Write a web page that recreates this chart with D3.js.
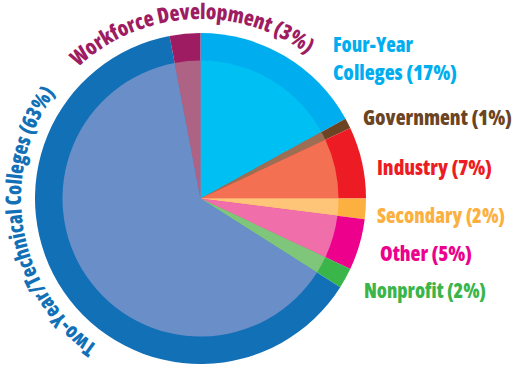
<!DOCTYPE html>
<html>
<head>
<meta charset="utf-8">
<script src="https://cdn.jsdelivr.net/npm/d3@7"></script>
<style>
  html, body { margin: 0; padding: 0; background: #ffffff; }
  svg text { font-family: "Open Sans", "Roboto", sans-serif; font-weight: 800; font-stretch: 75%; }
</style>
</head>
<body>
<svg id="chart" width="516" height="384"></svg>
<script>
// ---- data ----
const categories = ["Four-Year Colleges", "Government", "Industry", "Secondary", "Other", "Nonprofit", "Two-Year/Technical Colleges", "Workforce Development"];
const shares = [17, 1, 7, 2, 5, 2, 63, 3];
const ringColors = ["#00aeef", "#6b4423", "#ed1c24", "#fbb040", "#ec008c", "#39b54a", "#1270b7", "#9e1c61"];
const fillColors = ["#00bff3", "#9c6f55", "#f37053", "#fec578", "#f06faa", "#80c67a", "#6a8ec8", "#af6384"];
const labelLines = [["Four-Year", "Colleges (17%)"], ["Government (1%)"], ["Industry (7%)"], ["Secondary (2%)"], ["Other (5%)"], ["Nonprofit (2%)"], ["Two-Year/Technical Colleges (63%)"], ["Workforce Development (3%)"]];

// ---- layout ----
const cx = 200.5, cy = 198.5, rOuter = 165.5, rInner = 138;
const fontSize = 21.5;
const svg = d3.select("#chart");
const g = svg.append("g").attr("transform", `translate(${cx},${cy})`);

const data = categories.map((c, i) => ({ name: c, value: shares[i], i }));
const pie = d3.pie().value(d => d.value).sort(null).startAngle(0).endAngle(2 * Math.PI);
const arcs = pie(data);

const ring = d3.arc().innerRadius(0).outerRadius(rOuter);
const inner = d3.arc().innerRadius(0).outerRadius(rInner);

g.selectAll("path.ring").data(arcs).join("path")
  .attr("class", "ring")
  .attr("d", ring)
  .attr("fill", d => ringColors[d.data.i]);

g.selectAll("path.fill").data(arcs).join("path")
  .attr("class", "fill")
  .attr("d", inner)
  .attr("fill", d => fillColors[d.data.i]);

function fit(sel, target) {
  const nat = sel.node().getComputedTextLength();
  sel.attr("textLength", target).attr("lengthAdjust", nat < target ? "spacing" : "spacingAndGlyphs");
}

// ---- straight labels (right side) ----
const straight = [
  { i: 0, x: 333, y: [52, 80], w: [80, 124] },
  { i: 1, x: 363, y: [125], w: [149] },
  { i: 2, x: 377, y: [175], w: [115] },
  { i: 3, x: 377, y: [223], w: [128] },
  { i: 4, x: 380, y: [261], w: [92] },
  { i: 5, x: 364, y: [298], w: [122] }
];
straight.forEach(s => {
  labelLines[s.i].forEach((line, k) => {
    const t = svg.append("text")
      .attr("x", s.x).attr("y", s.y[k])
      .attr("font-size", fontSize)
      .attr("fill", ringColors[s.i])
      .text(line);
    fit(t, s.w[k]);
  });
});

// ---- curved labels ----
const rText = 179.5;
function arcPath(a0, a1, r) {
  const p0 = [r * Math.sin(a0), -r * Math.cos(a0)];
  const p1 = [r * Math.sin(a1), -r * Math.cos(a1)];
  const large = (a1 - a0) > Math.PI ? 1 : 0;
  return `M${p0[0]},${p0[1]} A${r},${r} 0 ${large} 1 ${p1[0]},${p1[1]}`;
}
const deg = Math.PI / 180;
const curved = [
  { i: 7, a0: -43 * deg, a1: 36.5 * deg, id: "wfPath" },
  { i: 6, a0: 215 * deg, a1: 306 * deg, id: "tyPath" }
];
const defs = svg.append("defs");
curved.forEach(c => {
  defs.append("path").attr("id", c.id).attr("d", arcPath(c.a0, c.a1, rText))
    .attr("transform", `translate(${cx},${cy})`);
  const len = (c.a1 - c.a0) * rText;
  const tp = svg.append("text")
    .attr("font-size", fontSize)
    .attr("fill", ringColors[c.i])
    .append("textPath")
    .attr("href", "#" + c.id)
    .text(labelLines[c.i][0]);
  fit(tp, len);
});
</script>
</body>
</html>
